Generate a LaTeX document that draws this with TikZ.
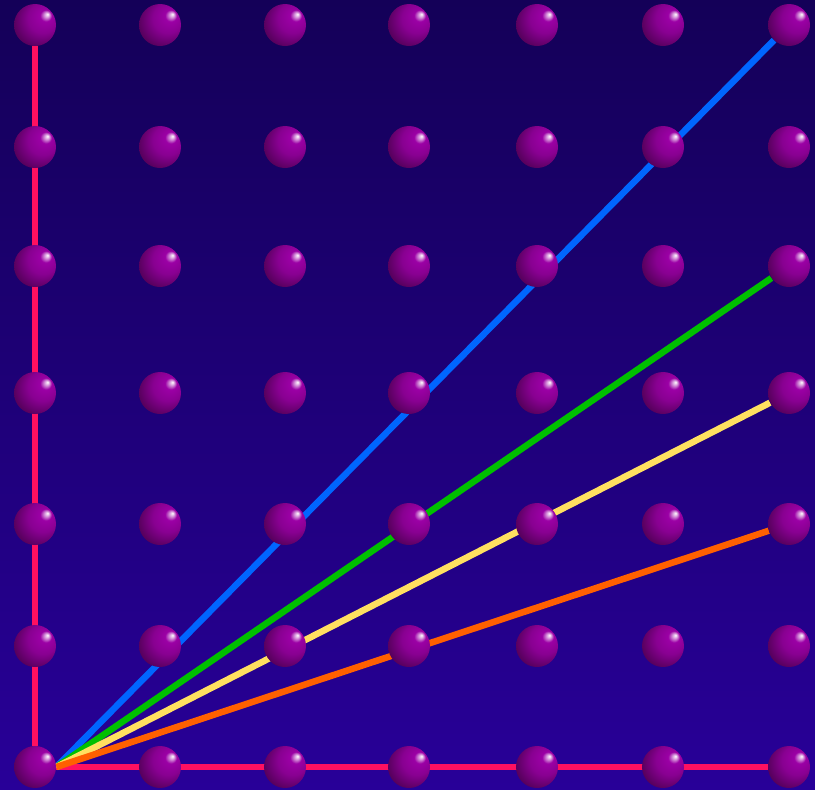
\documentclass[tikz,border=0pt]{standalone}
\usetikzlibrary{positioning}
\definecolor{skytop}{RGB}{20,0,88}
\definecolor{skybottom}{RGB}{40,0,152}
\definecolor{pegpurple}{RGB}{155,0,165}
\definecolor{pegdark}{RGB}{50,0,56}
\definecolor{pinkline}{RGB}{255,16,96}
\definecolor{blueline}{RGB}{0,102,255}
\definecolor{greenline}{RGB}{0,192,0}
\definecolor{yellowline}{RGB}{255,224,96}
\definecolor{orangeline}{RGB}{255,96,0}
\pgfdeclareradialshading{peg}{\pgfpoint{15bp}{13bp}}{color(0bp)=(white); color(2.5bp)=(pegpurple!35!white); color(7bp)=(pegpurple); color(18bp)=(pegpurple!88!black); color(30bp)=(pegpurple!60!black); color(42bp)=(pegdark); color(50bp)=(pegdark)}
\pgfdeclarelayer{bg}
\pgfsetlayers{bg,main}

\begin{document}
\begin{tikzpicture}[x=0.02cm, y=-0.02cm, every node/.style={circle,shading=peg,minimum size=0.84cm,inner sep=0pt}, ray/.style={line width=0.13cm}]
  % Backdrop
  \begin{pgfonlayer}{bg}
    \shade[top color=skytop, bottom color=skybottom] (0,0) rectangle (815,789);
  \end{pgfonlayer}
  \useasboundingbox (0,0) rectangle (815,789);

  % Pegs, column i, row j (j=0 at the bottom)
  \foreach \x [count=\i from 0] in {35,160,285,409,537,663,789} {
    \foreach \y [count=\j from 0] in {767,646,524,393,266,147,25} {
      \node (p\i\j) at (\x,\y) {};
    }
  }

  % Rays
  \begin{pgfonlayer}{bg}
    \draw[ray, pinkline] (p00) -- (p06);
    \draw[ray, pinkline] (p00.east) -- (p60);
    \draw[ray, blueline] (p00.east) -- (p66);
    \draw[ray, greenline] (p00.east) -- (p64);
    \draw[ray, yellowline] (p00.east) -- (p63);
    \draw[ray, orangeline] (p00.east) -- (p62);
  \end{pgfonlayer}
\end{tikzpicture}
\end{document}
